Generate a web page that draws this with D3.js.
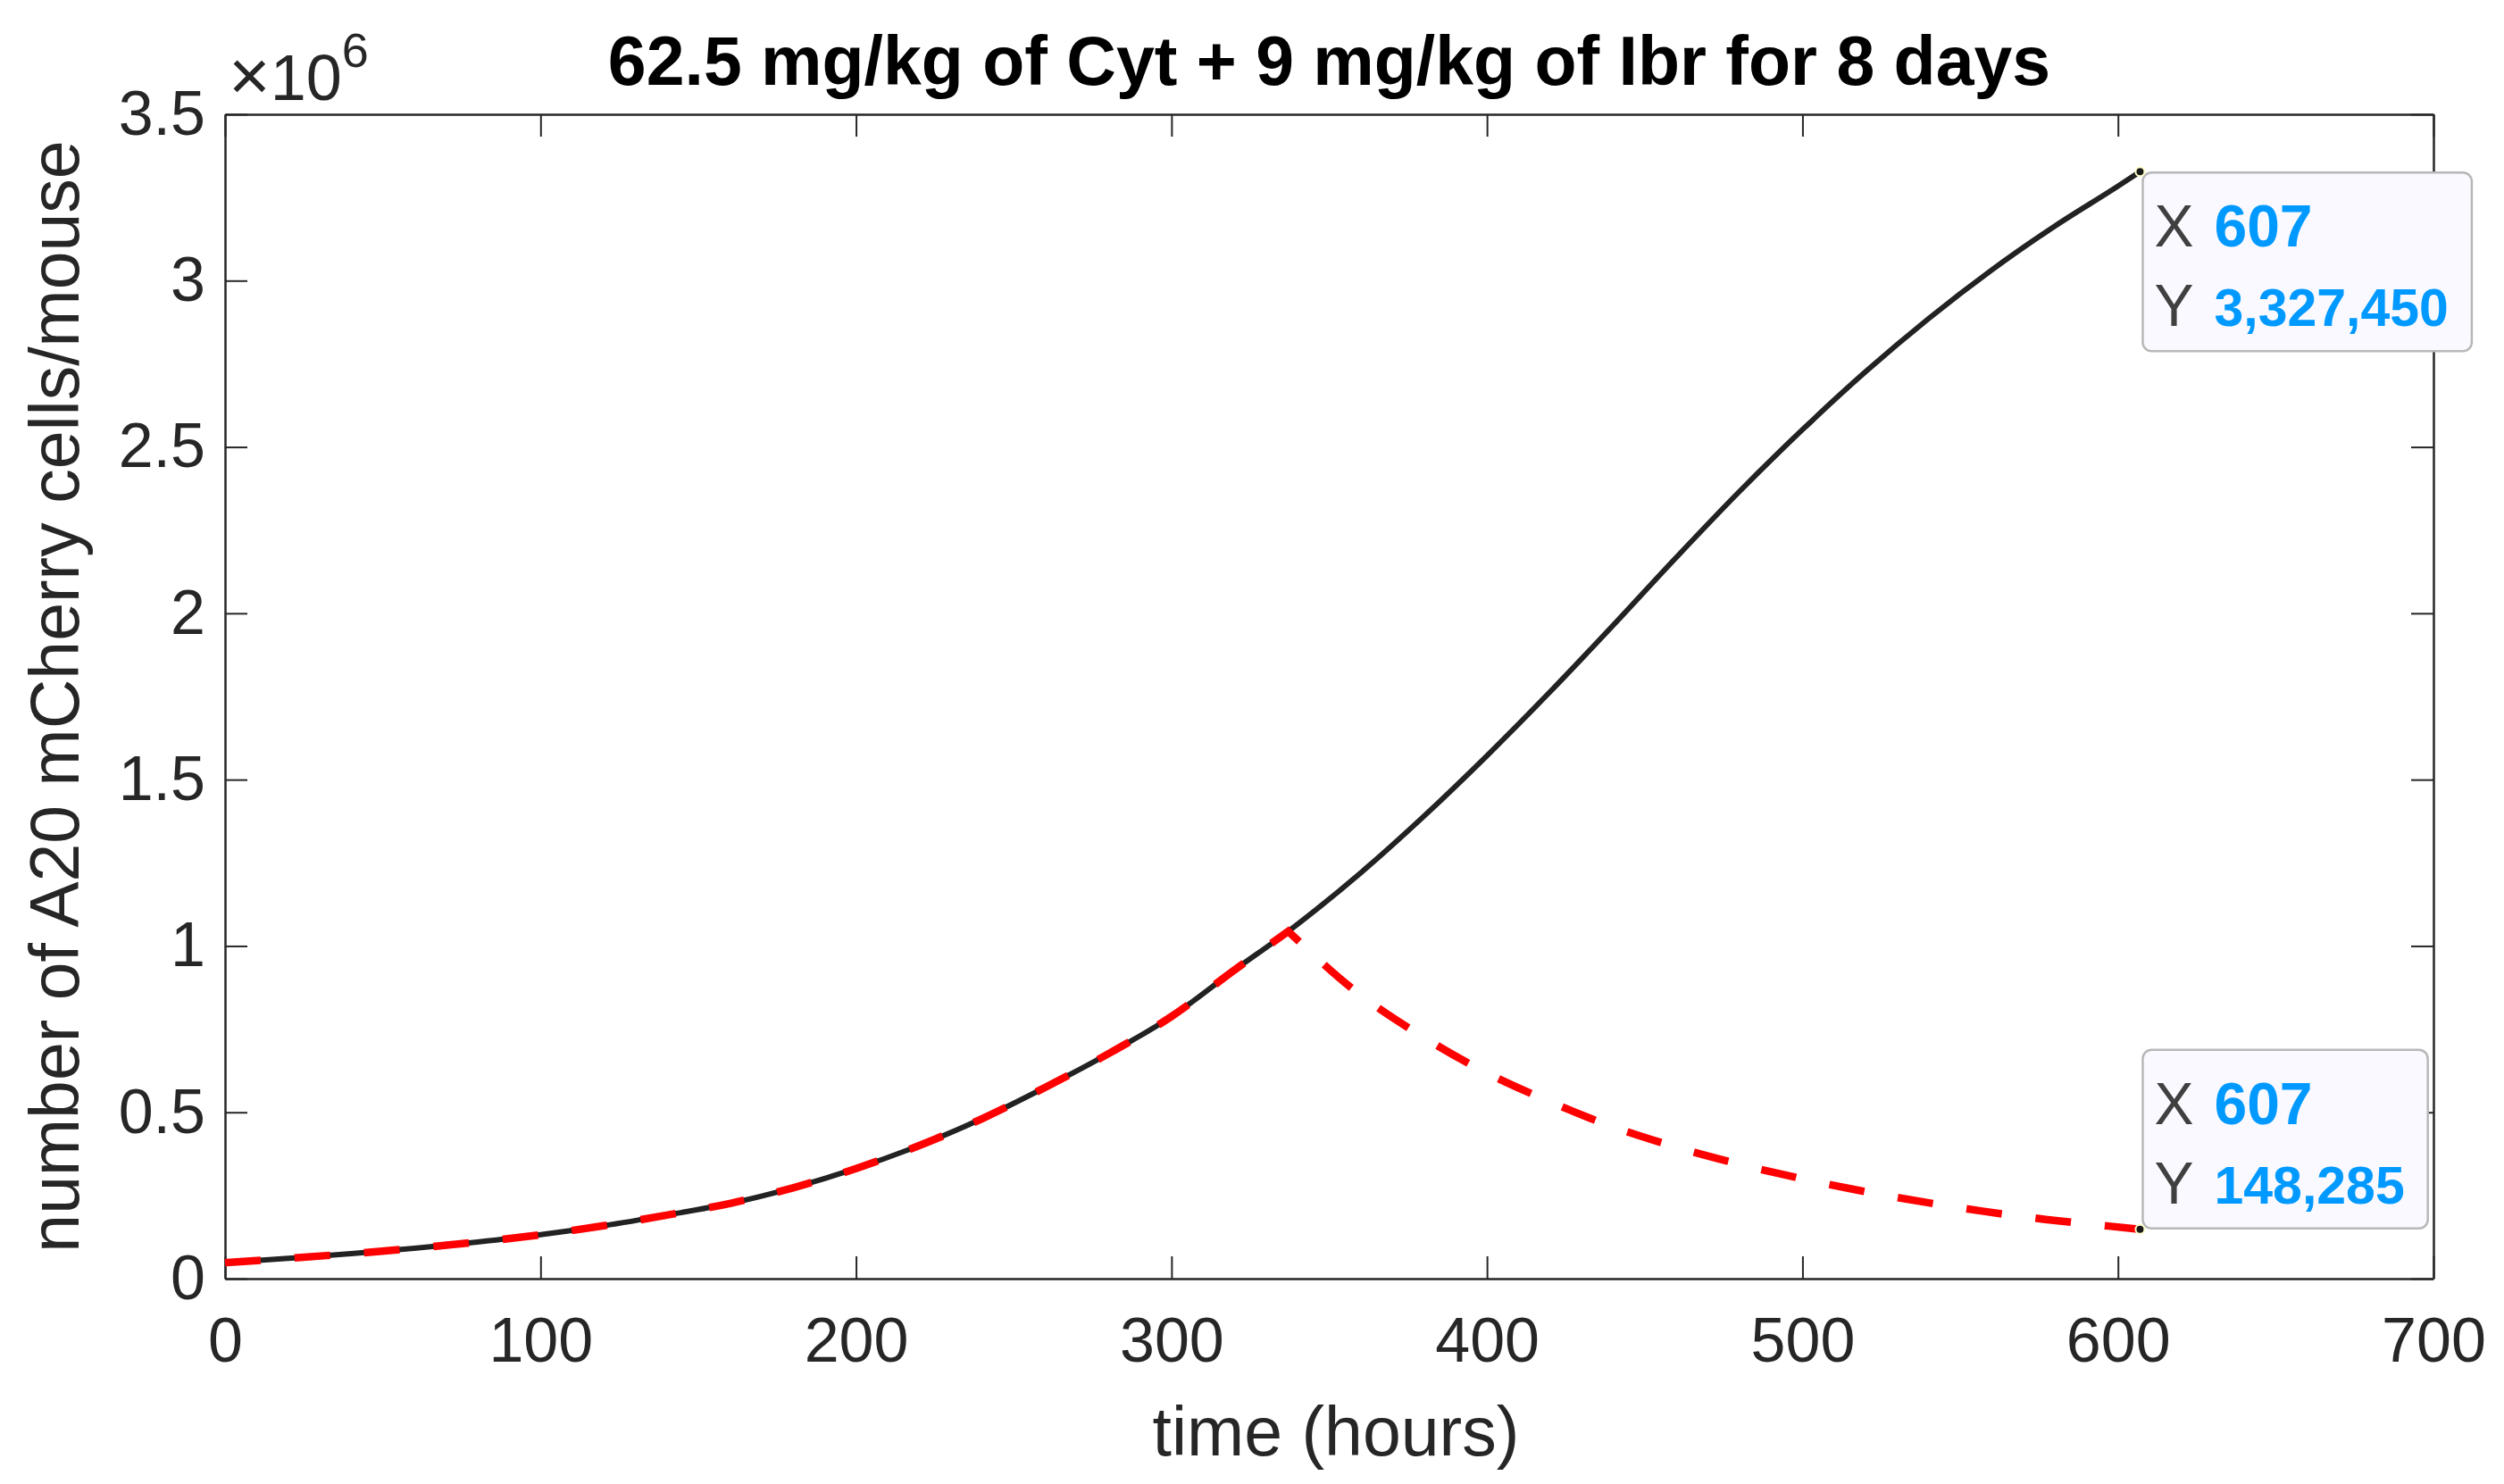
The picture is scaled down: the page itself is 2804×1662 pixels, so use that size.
<!DOCTYPE html>
<html>
<head>
<meta charset="utf-8">
<script src="https://cdn.jsdelivr.net/npm/d3@7"></script>
<style>
  body { margin: 0; background: #fff; }
  svg { display: block; }
</style>
</head>
<body>
<svg id="chart" width="2804" height="1662"></svg>
<script>
// values
const titleText = "62.5 mg/kg of Cyt + 9 mg/kg of Ibr for 8 days";
const xLabelText = "time (hours)";
const yLabelText = "number of A20 mCherry cells/mouse";

const xTicks = [0, 100, 200, 300, 400, 500, 600, 700];
const yTicks = [0, 0.5e6, 1e6, 1.5e6, 2e6, 2.5e6, 3e6, 3.5e6];

// untreated growth (solid black)
const timeGrowth = [0, 20, 40, 60, 80, 100, 120, 140, 160, 180, 200, 220, 240, 260, 280, 300, 320, 337,
                    360, 380, 400, 420, 440, 460, 480, 500, 520, 540, 560, 580, 600, 607];
const cellsGrowth = [48000, 61000, 75000, 91000, 110000, 132000, 159000, 191000, 226000, 273000, 331000,
                     400000, 481000, 575000, 676000, 788000, 928000, 1044000,
                     1220000, 1390000, 1572000, 1764000, 1964000, 2168000, 2366000, 2552000, 2726000,
                     2886000, 3032000, 3164000, 3284000, 3327450];

// treated (red dashed): follows growth until the treatment, then decays
const timeTreated = [0, 20, 40, 60, 80, 100, 120, 140, 160, 180, 200, 220, 240, 260, 280, 300, 320, 337,
                     359, 380, 399, 419, 438, 458, 478, 498, 518, 538, 557, 577, 597, 607];
const cellsTreated = [48000, 61000, 75000, 91000, 110000, 132000, 159000, 191000, 226000, 273000, 331000,
                      400000, 481000, 575000, 676000, 788000, 928000, 1044000,
                      859000, 725000, 623000, 536000, 463000, 401000, 349000, 304000, 265000, 231000,
                      203000, 178000, 158000, 148285];
const treatmentStart = 337;

// data tips
const tipX = [607, 607];
const tipY = [3327450, 148285];

const svg = d3.select("#chart");
const font = "'Liberation Sans', Arial, Helvetica, sans-serif";
const axisColor = "#262626";

const margin = { left: 252, right: 2804 - 2725, top: 128, bottom: 1662 - 1432 };
const width = +svg.attr("width");
const height = +svg.attr("height");

const xScale = d3.scaleLinear().domain([0, 700]).range([margin.left, width - margin.right]);
const yScale = d3.scaleLinear().domain([0, 3.5e6]).range([height - margin.bottom, margin.top]);

const tickLen = 25;

// Axes (box on, ticks inward like MATLAB)
const styleAxis = (g) => {
    g.attr("color", axisColor)
        .attr("font-family", font)
        .attr("font-size", 70);
    g.select(".domain").attr("stroke-width", 2.5);
    g.selectAll(".tick line").attr("stroke-width", 2);
};

svg.append("g")
    .attr("transform", `translate(0,${yScale(0)})`)
    .call(d3.axisBottom(xScale).tickValues(xTicks).tickSizeInner(-tickLen).tickSizeOuter(0).tickPadding(43))
    .call(styleAxis);

svg.append("g")
    .attr("transform", `translate(0,${yScale(3.5e6)})`)
    .call(d3.axisTop(xScale).tickValues(xTicks).tickSizeInner(-tickLen).tickSizeOuter(0).tickFormat(""))
    .call(styleAxis);

svg.append("g")
    .attr("transform", `translate(${xScale(0)},0)`)
    .call(d3.axisLeft(yScale).tickValues(yTicks).tickSizeInner(-tickLen).tickSizeOuter(0).tickPadding(22)
        .tickFormat(d => d / 1e6))
    .call(styleAxis);

svg.append("g")
    .attr("transform", `translate(${xScale(700)},0)`)
    .call(d3.axisRight(yScale).tickValues(yTicks).tickSizeInner(-tickLen).tickSizeOuter(0).tickFormat(""))
    .call(styleAxis);

// exponent label
const expo = svg.append("text")
    .attr("x", 256)
    .attr("y", 112)
    .attr("font-family", font)
    .attr("font-size", 72)
    .attr("fill", axisColor);
expo.append("tspan").attr("font-size", 80).text("\u00d7");
expo.append("tspan").text("10");
expo.append("tspan").attr("dy", -37).attr("font-size", 54).text("6");

// Title and labels
svg.append("text")
    .attr("x", (xScale(0) + xScale(700)) / 2)
    .attr("y", 95)
    .attr("text-anchor", "middle")
    .attr("font-family", font)
    .attr("font-weight", "bold")
    .attr("font-size", 77)
    .attr("fill", "#000")
    .text(titleText);

svg.append("text")
    .attr("x", 1496)
    .attr("y", 1630)
    .attr("text-anchor", "middle")
    .attr("font-family", font)
    .attr("font-size", 77)
    .attr("fill", axisColor)
    .text(xLabelText);

svg.append("text")
    .attr("transform", `translate(88,${(yScale(0) + yScale(3.5e6)) / 2}) rotate(-90)`)
    .attr("text-anchor", "middle")
    .attr("font-family", font)
    .attr("font-size", 77)
    .attr("fill", axisColor)
    .text(yLabelText);

// Lines
const line = d3.line()
    .x(d => xScale(d[0]))
    .y(d => yScale(d[1]))
    .curve(d3.curveMonotoneX);

const growthData = timeGrowth.map((t, i) => [t, cellsGrowth[i]]);
const treatedData = timeTreated.map((t, i) => [t, cellsTreated[i]]);
const beforeTreat = treatedData.filter(d => d[0] <= treatmentStart);
const afterTreat = treatedData.filter(d => d[0] >= treatmentStart);

svg.append("path")
    .attr("fill", "none")
    .attr("stroke", "#222222")
    .attr("stroke-width", 6)
    .attr("d", line(growthData));

svg.append("path")
    .attr("fill", "none")
    .attr("stroke", "#ff0000")
    .attr("stroke-width", 8.5)
    .attr("stroke-dasharray", "40,38")
    .attr("d", line(beforeTreat) + line(afterTreat).replace(/^M/, "L"));

// Data tips
tipX.forEach((tx, i) => {
    const px = xScale(tx);
    const py = yScale(tipY[i]);
    const below = i === 0;
    const boxH = 200;
    const boxTop = below ? py + 1 : py - boxH - 1;

    const tip = svg.append("g");
    const rect = tip.append("rect")
        .attr("x", px + 3)
        .attr("y", boxTop)
        .attr("height", boxH)
        .attr("rx", 10)
        .attr("fill", "#f9f9ff")
        .attr("stroke", "#b8b8b8")
        .attr("stroke-width", 2.5);

    tip.append("text")
        .attr("x", px + 16).attr("y", boxTop + 83)
        .attr("font-family", font).attr("font-size", 66).attr("fill", "#404040")
        .text("X");
    const xv = tip.append("text")
        .attr("x", px + 83).attr("y", boxTop + 83)
        .attr("font-family", font).attr("font-size", 66).attr("font-weight", "bold").attr("fill", "#0099ff")
        .text(d3.format(",")(tx));
    tip.append("text")
        .attr("x", px + 16).attr("y", boxTop + 172)
        .attr("font-family", font).attr("font-size", 66).attr("fill", "#404040")
        .text("Y");
    const yv = tip.append("text")
        .attr("x", px + 83).attr("y", boxTop + 172)
        .attr("font-family", font).attr("font-size", 59).attr("font-weight", "bold").attr("fill", "#0099ff")
        .text(d3.format(",")(tipY[i]));

    const textW = Math.max(xv.node().getComputedTextLength(), yv.node().getComputedTextLength());
    rect.attr("width", 80 + textW + 26);

    svg.append("circle")
        .attr("cx", px).attr("cy", py).attr("r", 5)
        .attr("fill", "#1a1a1a")
        .attr("stroke", "#ffffcc")
        .attr("stroke-width", 2);
});
</script>
</body>
</html>
